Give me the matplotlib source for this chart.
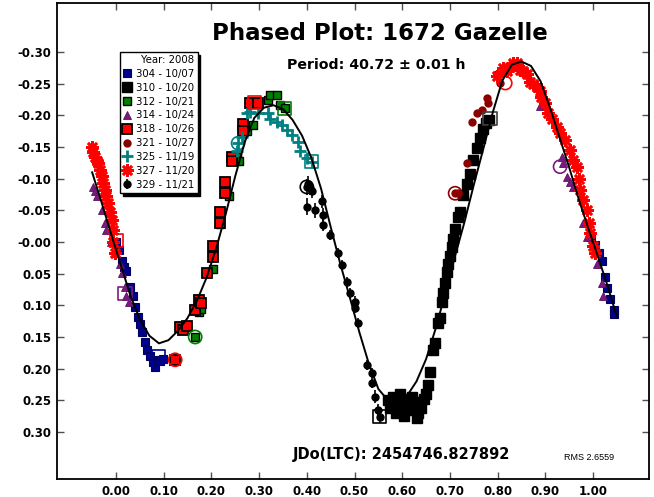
#!/usr/bin/env python
# phased lightcurve of 1672 Gazelle
import numpy as np
import matplotlib
matplotlib.use('Agg')
import matplotlib.pyplot as plt

plt.rcParams['axes.unicode_minus'] = False

# fourier fit
fit_phase = [-0.05, -0.03, -0.01, 0.01, 0.03, 0.05, 0.07, 0.09, 0.11, 0.13, 0.15, 0.17,
             0.19, 0.21, 0.23, 0.25, 0.27, 0.29, 0.31, 0.33, 0.35, 0.37, 0.39, 0.41,
             0.43, 0.45, 0.47, 0.49, 0.51, 0.53, 0.55, 0.57, 0.59, 0.61, 0.63, 0.65,
             0.67, 0.69, 0.71, 0.73, 0.75, 0.77, 0.79, 0.81, 0.83, 0.85, 0.87, 0.89,
             0.91, 0.93, 0.95, 0.97, 0.99, 1.01, 1.03, 1.05]
fit_mag = [-0.110, -0.062, -0.012, 0.036, 0.084, 0.122, 0.148, 0.160, 0.155, 0.140, 0.120, 0.092,
           0.056, 0.010, -0.044, -0.104, -0.158, -0.196, -0.212, -0.216, -0.210, -0.193, -0.168, -0.132,
           -0.084, -0.024, 0.034, 0.087, 0.142, 0.192, 0.232, 0.250, 0.254, 0.243, 0.220, 0.185,
           0.137, 0.082, 0.024, -0.030, -0.090, -0.147, -0.205, -0.255, -0.280, -0.285, -0.278, -0.254,
           -0.212, -0.165, -0.118, -0.068, -0.022, 0.022, 0.068, 0.118]

# sessions
s304_x = [0.000, 0.006, 0.012, 0.016, 0.022, 0.029, 0.036, 0.040, 0.047, 0.050, 0.054, 0.061, 0.064,
          0.071, 0.078, 0.082, 0.088, 0.092, 0.099, 0.996, 1.004, 1.012, 1.018, 1.025, 1.029, 1.036,
          1.043, 1.045]
s304_y = [0.000, 0.012, 0.030, 0.040, 0.046, 0.071, 0.086, 0.102, 0.118, 0.130, 0.142, 0.158, 0.170,
          0.180, 0.190, 0.198, 0.186, 0.188, 0.185, -0.008, 0.005, 0.018, 0.030, 0.055, 0.072, 0.090,
          0.108, 0.114]

s310_x = [0.570, 0.575, 0.580, 0.585, 0.588, 0.592, 0.596, 0.600, 0.604, 0.608, 0.612, 0.617, 0.621,
          0.626, 0.630, 0.633, 0.637, 0.640, 0.645, 0.650, 0.654, 0.658, 0.665, 0.669, 0.676, 0.679,
          0.683, 0.686, 0.690, 0.693, 0.697, 0.700, 0.704, 0.707, 0.711, 0.718, 0.721, 0.728, 0.735,
          0.742, 0.749, 0.756, 0.763, 0.770, 0.776, 0.781]
s310_y = [0.250, 0.262, 0.245, 0.258, 0.270, 0.252, 0.240, 0.262, 0.275, 0.248, 0.256, 0.265, 0.245,
          0.262, 0.278, 0.270, 0.252, 0.262, 0.248, 0.240, 0.225, 0.205, 0.170, 0.160, 0.128, 0.120,
          0.095, 0.080, 0.065, 0.048, 0.035, 0.022, 0.008, -0.005, -0.020, -0.040, -0.048, -0.075, -0.092,
          -0.108, -0.130, -0.148, -0.165, -0.178, -0.188, -0.193]

s312_x = [0.166, 0.173, 0.179, 0.204, 0.218, 0.236, 0.253, 0.258, 0.267, 0.274, 0.288, 0.319, 0.323,
          0.337, 0.344, 0.354]
s312_y = [0.150, 0.110, 0.105, 0.042, -0.028, -0.072, -0.135, -0.128, -0.172, -0.175, -0.185, -0.224,
          -0.232, -0.232, -0.216, -0.211]

s314_x = [-0.048, -0.044, -0.040, -0.030, -0.023, -0.020, -0.010, 0.001, 0.008, 0.012, 0.019, 0.022,
          0.027, 0.889, 0.934, 0.938, 0.945, 0.952, 0.959, 0.980, 0.987, 1.008, 1.018, 1.022]
s314_y = [-0.087, -0.080, -0.072, -0.050, -0.030, -0.019, 0.000, 0.018, 0.035, 0.049, 0.071, 0.086,
          0.095, -0.214, -0.135, -0.125, -0.103, -0.095, -0.087, -0.030, -0.008, 0.034, 0.065, 0.086]

s318_x = [0.124, 0.134, 0.141, 0.148, 0.166, 0.173, 0.179, 0.190, 0.204, 0.204, 0.218, 0.218, 0.229,
          0.229, 0.243, 0.243, 0.267, 0.267, 0.281, 0.298]
s318_y = [0.186, 0.134, 0.139, 0.132, 0.107, 0.092, 0.097, 0.049, 0.023, 0.007, -0.030, -0.048, -0.077,
          -0.095, -0.135, -0.128, -0.187, -0.176, -0.219, -0.219]

s321_x = [0.711, 0.716, 0.735, 0.746, 0.756, 0.767, 0.777, 0.780, 0.798, 0.805, 0.812]
s321_y = [-0.077, -0.077, -0.124, -0.190, -0.203, -0.208, -0.227, -0.220, -0.266, -0.251, -0.268]

s325_x = [0.253, 0.256, 0.264, 0.274, 0.281, 0.298, 0.319, 0.323, 0.337, 0.347, 0.358, 0.368, 0.382,
          0.386, 0.400, 0.410]
s325_y = [-0.143, -0.156, -0.166, -0.203, -0.206, -0.203, -0.203, -0.195, -0.190, -0.185, -0.177,
          -0.169, -0.158, -0.143, -0.132, -0.127]

s327_x = [-0.051, -0.048, -0.044, -0.040, -0.037, -0.034, -0.030, -0.027, -0.023, -0.020, -0.016,
          -0.012, -0.009, -0.006, -0.006, -0.002, 0.798, 0.812, 0.820, 0.826, 0.833, 0.840, 0.847,
          0.854, 0.861, 0.868, 0.875, 0.882, 0.889, 0.892, 0.899, 0.906, 0.913, 0.924, 0.931, 0.941,
          0.952, 0.959, 0.966, 0.970, 0.973, 0.980, 0.987, 0.991, 0.994, 1.001, 1.004]
s327_y = [-0.150, -0.142, -0.135, -0.128, -0.124, -0.114, -0.105, -0.093, -0.082, -0.072, -0.061,
          -0.048, -0.035, -0.019, 0.000, 0.018, -0.262, -0.275, -0.270, -0.277, -0.283, -0.282, -0.272,
          -0.270, -0.266, -0.253, -0.250, -0.245, -0.238, -0.229, -0.219, -0.203, -0.195, -0.182, -0.172,
          -0.161, -0.145, -0.129, -0.119, -0.100, -0.082, -0.066, -0.051, -0.030, -0.014, 0.007, 0.018]

s329_x = [0.400, 0.403, 0.407, 0.411, 0.400, 0.417, 0.431, 0.435, 0.435, 0.449, 0.466, 0.473, 0.484,
          0.491, 0.501, 0.501, 0.508, 0.526, 0.536, 0.536, 0.543, 0.549, 0.553]
s329_y = [-0.087, -0.092, -0.085, -0.080, -0.056, -0.050, -0.064, -0.043, -0.027, -0.011, 0.018, 0.036,
          0.063, 0.081, 0.094, 0.104, 0.128, 0.194, 0.207, 0.223, 0.244, 0.266, 0.276]
s329_err = [0.012, 0.012, 0.010, 0.010, 0.014, 0.012, 0.010, 0.010, 0.010, 0.008, 0.008, 0.008, 0.008,
            0.008, 0.008, 0.008, 0.008, 0.008, 0.008, 0.008, 0.010, 0.010, 0.010]

# open boxes / rings that mark session starts
box_x = [0.001, 0.019, 0.089, 0.290, 0.354, 0.410, 0.553, 0.784]
box_y = [-0.002, 0.081, 0.181, -0.220, -0.211, -0.127, 0.276, -0.195]
box_c = ['#ff0000', '#7a1a80', '#00008b', '#ff0000', '#008000', '#008080', 'black', '#404040']
ring_x = [0.124, 0.166, 0.256, 0.400, 0.711, 0.816, 0.931]
ring_y = [0.186, 0.150, -0.156, -0.087, -0.077, -0.251, -0.119]
ring_c = ['#ff0000', '#008000', '#008080', 'black', '#8b0000', '#ff0000', '#7a1a80']

fig = plt.figure(figsize=(6.54, 4.97), dpi=100)
ax = fig.add_axes([57/654, 1-479/497, 592/654, 476/497])

ax.plot(s304_x, s304_y, 's', ms=5.5, mfc='#00008b', mec='#000060', mew=0.8, label='304 - 10/07')
ax.plot(s310_x, s310_y, 's', ms=6.5, mfc='black', mec='black', label='310 - 10/20')
ax.plot(s312_x, s312_y, 's', ms=6, mfc='#008000', mec='black', mew=1, label='312 - 10/21')
ax.plot(s314_x, s314_y, '^', ms=6, mfc='#7a1a80', mec='#5a105e', mew=0.6, label='314 - 10/24')
ax.plot(s318_x, s318_y, 's', ms=7.2, mfc='#ff0000', mec='black', mew=1.3, label='318 - 10/26')
ax.plot(s321_x, s321_y, 'o', ms=5, mfc='#8b0000', mec='#8b0000', label='321 - 10/27')
ax.plot(s325_x, s325_y, '+', ms=8, mec='#008080', mew=2, label='325 - 11/19')
ax.plot(s327_x, s327_y, marker=(8, 2, 0), ls='none', ms=9, mec='#ff0000', mew=1.9, label='327 - 11/20')
ax.errorbar(s329_x, s329_y, yerr=s329_err, fmt='o', ms=5, mfc='black', mec='black',
            ecolor='black', elinewidth=1.2, capsize=0, label='329 - 11/21')

ax.scatter(box_x, box_y, s=90, marker='s', facecolors='none', edgecolors=box_c, linewidths=1.2, zorder=4)
ax.scatter(ring_x, ring_y, s=90, marker='o', facecolors='none', edgecolors=ring_c, linewidths=1.2, zorder=4)

ax.plot(fit_phase, fit_mag, color='black', lw=1.4, zorder=5)

ax.set_xlim(-0.1237, 1.1174)
ax.set_ylim(0.3742, -0.3774)

ax.set_xticks(np.round(np.arange(0, 1.01, 0.1), 2))
ax.set_yticks(np.round(np.arange(-0.30, 0.31, 0.05), 2))
ax.xaxis.set_major_formatter(matplotlib.ticker.FormatStrFormatter('%.2f'))
ax.yaxis.set_major_formatter(matplotlib.ticker.FormatStrFormatter('%.2f'))
ax.tick_params(direction='in', length=5, width=1, color='#505050', top=True, right=True,
               labelsize=8.5, pad=4)
for lab in ax.get_xticklabels() + ax.get_yticklabels():
    lab.set_fontweight('bold')
for sp in ax.spines.values():
    sp.set_linewidth(1.3)
    sp.set_color('black')

leg = ax.legend(loc='upper left', bbox_to_anchor=((120-57)/592, 1-(52-3)/476),
                borderaxespad=0, title='Year: 2008', alignment='right', fontsize=7.3,
                title_fontsize=7.3, handlelength=0.8, handletextpad=0.5, labelspacing=0.38,
                borderpad=0.3, fancybox=False, framealpha=1, numpoints=1,
                shadow={'color': 'black', 'alpha': 1})
leg.get_frame().set_edgecolor('black')
leg.get_frame().set_linewidth(1)

fig.text(380/654, 1-34/497, 'Phased Plot: 1672 Gazelle', ha='center', va='center',
         fontsize=16.5, fontweight='bold')
fig.text(376/654, 1-65/497, 'Period: 40.72 \u00b1 0.01 h', ha='center', va='center',
         fontsize=10.2, fontweight='bold')
fig.text(401/654, 1-455/497, 'JDo(LTC): 2454746.827892', ha='center', va='center',
         fontsize=10.5, fontweight='bold')
fig.text(589/654, 1-457/497, 'RMS 2.6559', ha='center', va='center', fontsize=6.5,
         family='Liberation Sans')

fig.savefig('out.png', dpi=100)
